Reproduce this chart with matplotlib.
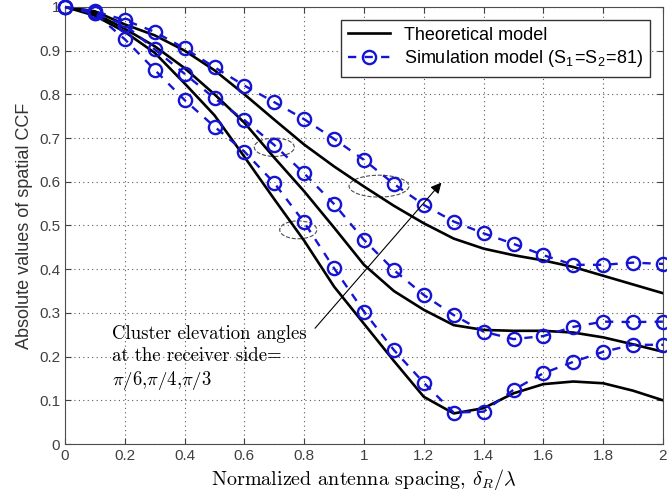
import numpy as np
import matplotlib
matplotlib.use('Agg')
import matplotlib.pyplot as plt
from matplotlib.patches import Ellipse

plt.rcParams['font.family'] = ['Liberation Sans', 'DejaVu Sans']
plt.rcParams['mathtext.fontset'] = 'cm'

# normalized antenna spacing (delta_R / lambda)
spacing = [0.0, 0.1, 0.2, 0.3, 0.4, 0.5, 0.6, 0.7, 0.8, 0.9, 1.0,
           1.1, 1.2, 1.3, 1.4, 1.5, 1.6, 1.7, 1.8, 1.9, 2.0]

# theoretical model, one list per cluster elevation angle
theory_pi3 = [1.0, 0.99, 0.96, 0.935, 0.90, 0.855, 0.80, 0.742, 0.685, 0.635, 0.589,
              0.545, 0.505, 0.47, 0.447, 0.432, 0.42, 0.405, 0.385, 0.365, 0.345]
theory_pi4 = [1.0, 0.985, 0.95, 0.91, 0.86, 0.80, 0.735, 0.655, 0.578, 0.495, 0.41,
              0.35, 0.307, 0.272, 0.261, 0.259, 0.259, 0.255, 0.244, 0.228, 0.211]
theory_pi6 = [1.0, 0.98, 0.943, 0.895, 0.825, 0.752, 0.657, 0.56, 0.465, 0.36, 0.275,
              0.19, 0.108, 0.07, 0.082, 0.116, 0.137, 0.143, 0.139, 0.122, 0.10]

# simulation model (S1=S2=81)
sim_pi3 = [1.0, 0.99, 0.97, 0.943, 0.905, 0.862, 0.82, 0.782, 0.743, 0.698, 0.65,
           0.595, 0.547, 0.509, 0.482, 0.458, 0.432, 0.41, 0.41, 0.415, 0.412]
sim_pi4 = [1.0, 0.985, 0.959, 0.903, 0.847, 0.791, 0.741, 0.684, 0.619, 0.549, 0.467,
           0.398, 0.341, 0.295, 0.257, 0.24, 0.247, 0.268, 0.28, 0.279, 0.28]
sim_pi6 = [1.0, 0.985, 0.926, 0.856, 0.787, 0.726, 0.669, 0.597, 0.507, 0.402, 0.303,
           0.215, 0.14, 0.072, 0.074, 0.124, 0.162, 0.188, 0.211, 0.227, 0.227]

fig = plt.figure(figsize=(6.67, 4.95), dpi=100)
ax = fig.add_axes([0.0975, 0.103, 0.8965, 0.883])

blue = '#1414d2'
for k, th in enumerate([theory_pi6, theory_pi4, theory_pi3]):
    ax.plot(spacing, th, color='black', lw=1.9,
            label='Theoretical model' if k == 0 else None)
for k, sm in enumerate([sim_pi6, sim_pi4, sim_pi3]):
    ax.plot(spacing, sm, color=blue, lw=1.7, ls=(0, (3.5, 3.5)), marker='o',
            ms=9.5, mfc='none', mec=blue, mew=1.7, clip_on=False, zorder=3,
            label=r'Simulation model (S$_\mathregular{1}$=S$_\mathregular{2}$=81)' if k == 0 else None)

# small dashed ellipses marking each curve pair
for (cx, cy, w, h) in [(0.70, 0.679, 0.134, 0.042), (1.05, 0.59, 0.20, 0.05), (0.78, 0.49, 0.124, 0.041)]:
    ax.add_patch(Ellipse((cx, cy), w, h, fill=False, ls='--', lw=0.8, ec='0.3'))

ax.annotate('', xy=(1.265, 0.603), xytext=(0.83, 0.26),
            arrowprops=dict(arrowstyle='-|>', color='black', lw=0.8, mutation_scale=16))
ax.text(0.157, 0.272, 'Cluster elevation angles\nat the receiver side=\n' + r'$\pi/6$,$\pi/4$,$\pi/3$',
        family='cmr10', fontsize=13.5, va='top', linespacing=1.25)

ax.set_xlim(0, 2)
ax.set_ylim(0, 1)
ax.set_xticks(np.arange(0, 2.01, 0.2))
ax.set_yticks(np.arange(0, 1.01, 0.1))
ax.set_xticklabels(['%g' % v for v in np.round(np.arange(0, 2.01, 0.2), 1)])
ax.set_yticklabels(['%g' % v for v in np.round(np.arange(0, 1.01, 0.1), 1)])
ax.tick_params(direction='in', top=True, right=True, length=4, labelsize=11, colors='0.25')
for s in ax.spines.values():
    s.set_color('0.3')
ax.grid(True, ls=(0, (1, 3)), color='0.35', lw=0.8)

ax.set_xlabel(r'Normalized antenna spacing, $\delta_R/\lambda$', family='cmr10', fontsize=14.5, labelpad=3)
ax.set_ylabel('Absolute values of spatial CCF', fontsize=13, color='0.2')

ax.legend(loc='upper right', fontsize=13, numpoints=1, handlelength=2.3, fancybox=False,
          edgecolor='0.2', framealpha=1, borderaxespad=0.7, labelspacing=0.25)

fig.savefig('out.png', dpi=100)
